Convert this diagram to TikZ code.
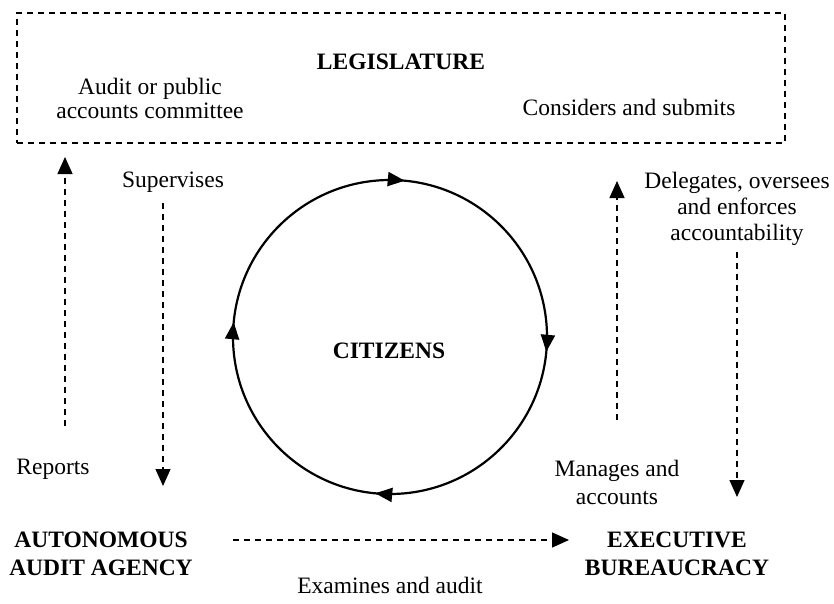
\documentclass[tikz,border=0pt]{standalone}
\usepackage{fontspec}
\setmainfont{Liberation Serif}
\usetikzlibrary{arrows.meta,decorations.markings}
\begin{document}
\begin{tikzpicture}[x=1pt,y=-1pt,
  lbl/.style={font=\fontsize{23.5}{26}\selectfont, align=center, inner sep=0pt},
  one/.style={lbl, text height=16pt, text depth=5pt},
  head/.style={font=\fontsize{23.5}{28}\selectfont\bfseries, align=center, inner sep=0pt},
  flow/.style={line width=1.3pt, dash pattern=on 6pt off 5pt,
               -{Triangle[length=17pt,width=15pt]}},
  ring/.style={line width=2.2pt}
]
\useasboundingbox (0,0) rectangle (834,604);

% legislature frame and its texts
\node[draw, line width=1.3pt, dash pattern=on 6pt off 5pt,
      minimum width=768pt, minimum height=130pt, inner sep=0pt] (frame) at (401,78) {};
\node[head] (leg) at (401,62) {LEGISLATURE};
\node[lbl] (pac) at (150,98) {Audit or public\\[-2pt]accounts committee};
\node[one] (cons) at (629,110) {Considers and submits};

% side labels
\node[one] (sup) at (173,182) {Supervises};
\node[lbl] (del) at (737,209) {Delegates, oversees\\and enforces\\accountability};
\node[one] (rep) at (53,469) {Reports};
\node[lbl] (man) at (617,482) {Manages and\\[2pt]accounts};
\node[one] (exa) at (390,588) {Examines and audit};

% actors
\node[head] (aaa) at (101,554) {AUTONOMOUS\\AUDIT AGENCY};
\node[head] (exe) at (677,554) {EXECUTIVE\\BUREAUCRACY};

% citizens cycle
\coordinate (c) at (390,337);
\node[head] (cit) at (389,351) {CITIZENS};
\draw[ring, postaction={decorate}, decoration={markings,
    mark=at position 0.015 with {\arrow{Triangle[length=17pt,width=14pt]}},
    mark=at position 0.265 with {\arrow{Triangle[length=17pt,width=14pt]}},
    mark=at position 0.515 with {\arrow{Triangle[length=17pt,width=14pt]}},
    mark=at position 0.765 with {\arrow{Triangle[length=17pt,width=14pt]}}}]
  ([shift={(-90:157)}]c) arc[start angle=-90, end angle=270, radius=157];

% accountability flows
\coordinate (repA) at (65,426);  \coordinate (repB) at (65,157);
\coordinate (supA) at (163,203); \coordinate (supB) at (163,486);
\coordinate (manA) at (617,420); \coordinate (manB) at (617,181);
\coordinate (delA) at (737,252); \coordinate (delB) at (737,497);
\coordinate (exaA) at (233,540); \coordinate (exaB) at (569,540);
\draw[flow] (repA) -- (repB);
\draw[flow] (supA) -- (supB);
\draw[flow] (manA) -- (manB);
\draw[flow] (delA) -- (delB);
\draw[flow] (exaA) -- (exaB);
\end{tikzpicture}
\end{document}
